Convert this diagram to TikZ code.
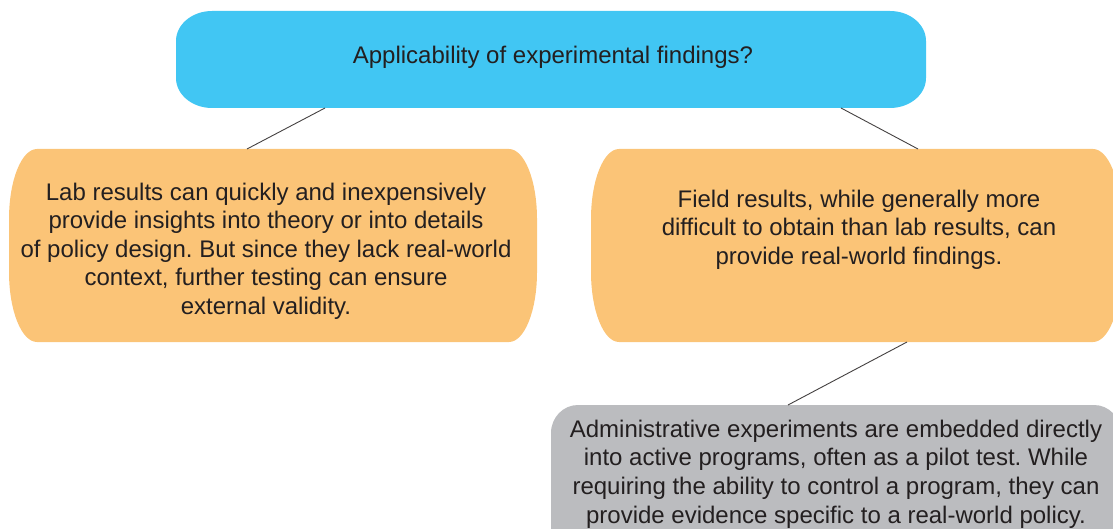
\documentclass[tikz,border=0pt]{standalone}
\usepackage{fontspec}
\setmainfont{Liberation Sans}
\frenchspacing
\definecolor{qblue}{HTML}{41C6F3}
\definecolor{qorange}{HTML}{FBC477}
\definecolor{qgray}{HTML}{BBBCBF}
\definecolor{qink}{HTML}{231F20}
% Fill a box node with elliptically rounded corners: node, colour, x radius, y radius
\newcommand\ovalfill[4]{%
  \fill[#2] ([xshift=#3]#1.north west) -- ([xshift=-#3]#1.north east)
    arc[start angle=90, end angle=0, x radius=#3, y radius=#4]
    -- ([yshift=#4]#1.south east)
    arc[start angle=0, end angle=-90, x radius=#3, y radius=#4]
    -- ([xshift=#3]#1.south west)
    arc[start angle=270, end angle=180, x radius=#3, y radius=#4]
    -- ([yshift=-#4]#1.north west)
    arc[start angle=180, end angle=90, x radius=#3, y radius=#4] -- cycle;}
\begin{document}
\begin{tikzpicture}[x=1pt, y=-1pt,
  frame/.style={shape=rectangle, inner sep=0pt, outer sep=0pt},
  txt/.style={align=center, inner sep=0pt, text=qink,
    font=\fontsize{24}{28.6}\selectfont},
  link/.style={draw=qink!85, line width=0.9pt}]
\clip (0,0) rectangle (1113,529);
\useasboundingbox (0,0) rectangle (1113,529);

% box frames
\node[frame, minimum width=750pt, minimum height=97pt] (top) at (551,59.5) {};
\node[frame, minimum width=528pt, minimum height=193pt] (lab) at (273,245.5) {};
\node[frame, minimum width=530pt, minimum height=193pt] (field) at (856,245.5) {};
\node[frame, minimum width=570pt, minimum height=155pt] (admin) at (836,482.5) {};

% rounded fills
\ovalfill{top}{qblue}{36pt}{30pt}
\ovalfill{lab}{qorange}{28pt}{70pt}
\ovalfill{field}{qorange}{28pt}{70pt}
\ovalfill{admin}{qgray}{27pt}{28pt}

% connectors
\draw[link] ([xshift=-226pt]top.south) -- ([xshift=-26pt]lab.north);
\draw[link] ([xshift=290pt]top.south) -- ([xshift=62pt]field.north);
\draw[link] ([xshift=51pt]field.south) -- ([xshift=-48pt]admin.north);

% texts
\node[txt] (toptext) at (553,57) {Applicability of experimental findings?};
\node[txt] (labtext) at (266,251) {Lab results can quickly and inexpensively\\
  provide insights into theory or into details\\
  of policy design. But since they lack real-world\\
  context, further testing can ensure\\
  external validity.};
\node[txt] (fieldtext) at (859,229.5) {Field results, while generally more\\
  difficult to obtain than lab results, can\\
  provide real-world findings.};
\node[txt] (admintext) at (836,474) {Administrative experiments are embedded directly\\
  into active programs, often as a pilot test. While\\
  requiring the ability to control a program, they can\\
  provide evidence specific to a real-world policy.};
\end{tikzpicture}
\end{document}
